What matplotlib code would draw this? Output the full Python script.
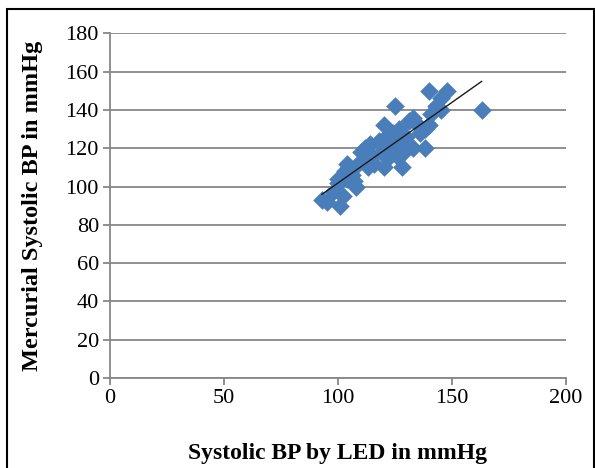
import numpy as np
import matplotlib.pyplot as plt
from matplotlib.patches import Rectangle

# Systolic BP readings (mmHg)
led = [93, 95, 98, 100, 100, 101, 102, 103, 104, 104, 105, 106, 107, 108, 109, 110, 111,
       112, 113, 114, 115, 116, 118, 119, 120, 120, 121, 122, 123, 124, 125, 126, 126,
       127, 128, 129, 130, 131, 133, 133, 135, 136, 138, 138, 140, 140, 141, 143, 145,
       145, 148, 163]
mercurial = [93, 92, 97, 102, 104, 90, 95, 108, 104, 112, 110, 106, 103, 100, 112, 118, 114,
             120, 110, 122, 116, 112, 124, 118, 110, 132, 126, 115, 120, 128, 142, 122, 116,
             130, 110, 118, 126, 134, 136, 120, 132, 128, 120, 130, 150, 132, 138, 142, 146,
             140, 150, 140]
xticks = [0, 50, 100, 150, 200]
yticks = list(range(0, 181, 20))

plt.rcParams['font.family'] = ['Liberation Serif', 'DejaVu Serif']

fig = plt.figure(figsize=(5.95, 4.68), dpi=100)
ax = fig.add_axes([0.185, 0.192, 0.766, 0.737])

x = np.array(led)
y = np.array(mercurial)
ax.scatter(x, y, marker='D', s=90, color='#4a7ebb', linewidths=0, zorder=3)

m, c = np.polyfit(x, y, 1)
xs = np.array([x.min(), x.max()])
ax.plot(xs, m*xs + c, color='#1a1a1a', lw=1, zorder=4)

ax.set_xlim(0, 200)
ax.set_ylim(0, 180)
ax.set_xticks(xticks)
ax.set_yticks(yticks)
ax.grid(axis='y', color='#878787', lw=1.3)
ax.set_axisbelow(True)
for s in ['top', 'right']:
    ax.spines[s].set_visible(False)
for s in ['left', 'bottom']:
    ax.spines[s].set_color('#878787')
    ax.spines[s].set_linewidth(1.3)
ax.tick_params(length=5, width=1.3, color='#878787', labelsize=16, pad=3)

ax.set_xlabel('Systolic BP by LED in mmHg', fontsize=17, fontweight='bold', labelpad=25)
ax.set_ylabel('Mercurial Systolic BP in mmHg', fontsize=17.5, fontweight='bold', labelpad=16)

fig.patches.append(Rectangle((7/595, -0.05), 587/595, 1.05 - 9/468, transform=fig.transFigure,
                             fill=False, edgecolor='black', lw=1.5, clip_on=False))

fig.savefig('out.png', dpi=100)
